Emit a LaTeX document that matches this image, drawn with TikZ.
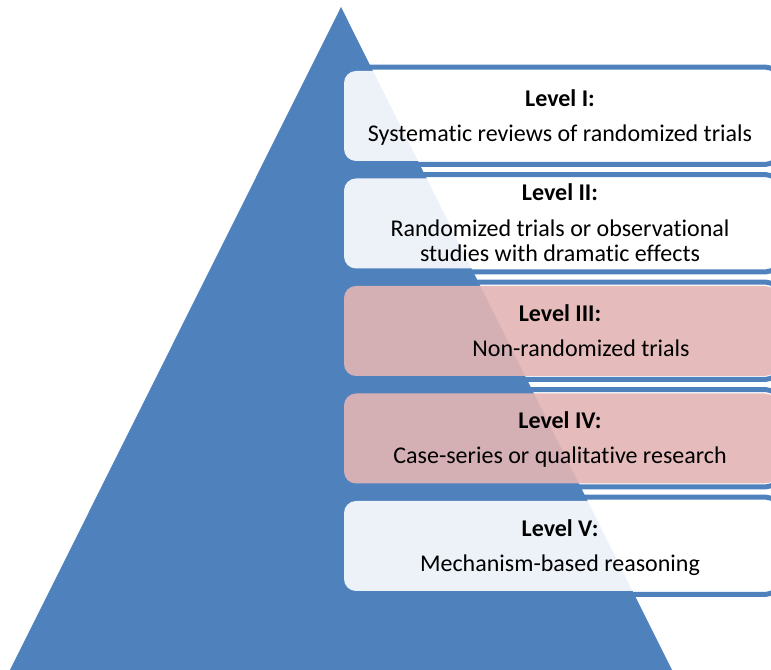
\documentclass[tikz,border=0pt]{standalone}
\usepackage{fontspec}
\setmainfont{Carlito}[Ligatures={NoCommon}]
\usetikzlibrary{backgrounds}

\definecolor{pyrblue}{HTML}{4F81BD}
\definecolor{levelpink}{HTML}{E3B4B4}

\tikzset{
  boxline/.style={draw=pyrblue, line width=3.75pt, rounded corners=9pt},
  levelbox/.style={fill=white, fill opacity=0.9, rounded corners=9pt,
    minimum width=324.75pt, minimum height=67.5pt, inner sep=0pt},
  head/.style={font=\fontsize{18}{18.75}\selectfont\bfseries},
  body/.style={font=\fontsize{18}{18.75}\selectfont, align=center}
}

\begin{document}
\begin{tikzpicture}[x=0.75pt,y=0.75pt]
  \clip (0,0) rectangle (771,670);
  \begin{scope}[on background layer]
    \fill[pyrblue] (341,663) -- (676,-8) -- (6,-8) -- cycle;
  \end{scope}

  \node (lvlone)   at (560.5,554)   [levelbox] {};
  \node (lvltwo)   at (560.5,446.5) [levelbox] {};
  \node (lvlthree) at (560.5,339)   [levelbox, fill=levelpink] {};
  \node (lvlfour)  at (560.5,231.5) [levelbox, fill=levelpink] {};
  \node (lvlfive)  at (560.5,124)   [levelbox] {};

  \node (headone)   at (560,572)   [head] {Level I:};
  \node (bodyone)   at (560,535)   [body] {Systematic reviews of randomized trials};
  \node (headtwo)   at (560,478)   [head] {Level II:};
  \node (bodytwo)   at (560,429.5) [body] {Randomized trials or observational\\studies with dramatic effects};
  \node (headthree) at (560,357)   [head] {Level III:};
  \node (bodythree) at (581,322)   [body] {Non-randomized trials};
  \node (headfour)  at (560,250)   [head] {Level IV:};
  \node (bodyfour)  at (560,213)   [body] {Case-series or qualitative research};
  \node (headfive)  at (560,142)   [head] {Level V:};
  \node (bodyfive)  at (560,105)   [body] {Mechanism-based reasoning};

  % blue frames behind the boxes
  \begin{scope}[on background layer]
    \draw[boxline] ([shift={(-5,-3)}]lvlone.south west)   rectangle ([shift={(1,3.5)}]lvlone.north east);
    \draw[boxline] ([shift={(-5,-3)}]lvltwo.south west)   rectangle ([shift={(1,3.5)}]lvltwo.north east);
    \draw[boxline] ([shift={(-5,-3)}]lvlthree.south west) rectangle ([shift={(1,3.5)}]lvlthree.north east);
    \draw[boxline] ([shift={(-5,-3)}]lvlfour.south west)  rectangle ([shift={(1,3.5)}]lvlfour.north east);
    \draw[boxline] ([shift={(-5,-3)}]lvlfive.south west)  rectangle ([shift={(1,3.5)}]lvlfive.north east);
  \end{scope}
\end{tikzpicture}
\end{document}
